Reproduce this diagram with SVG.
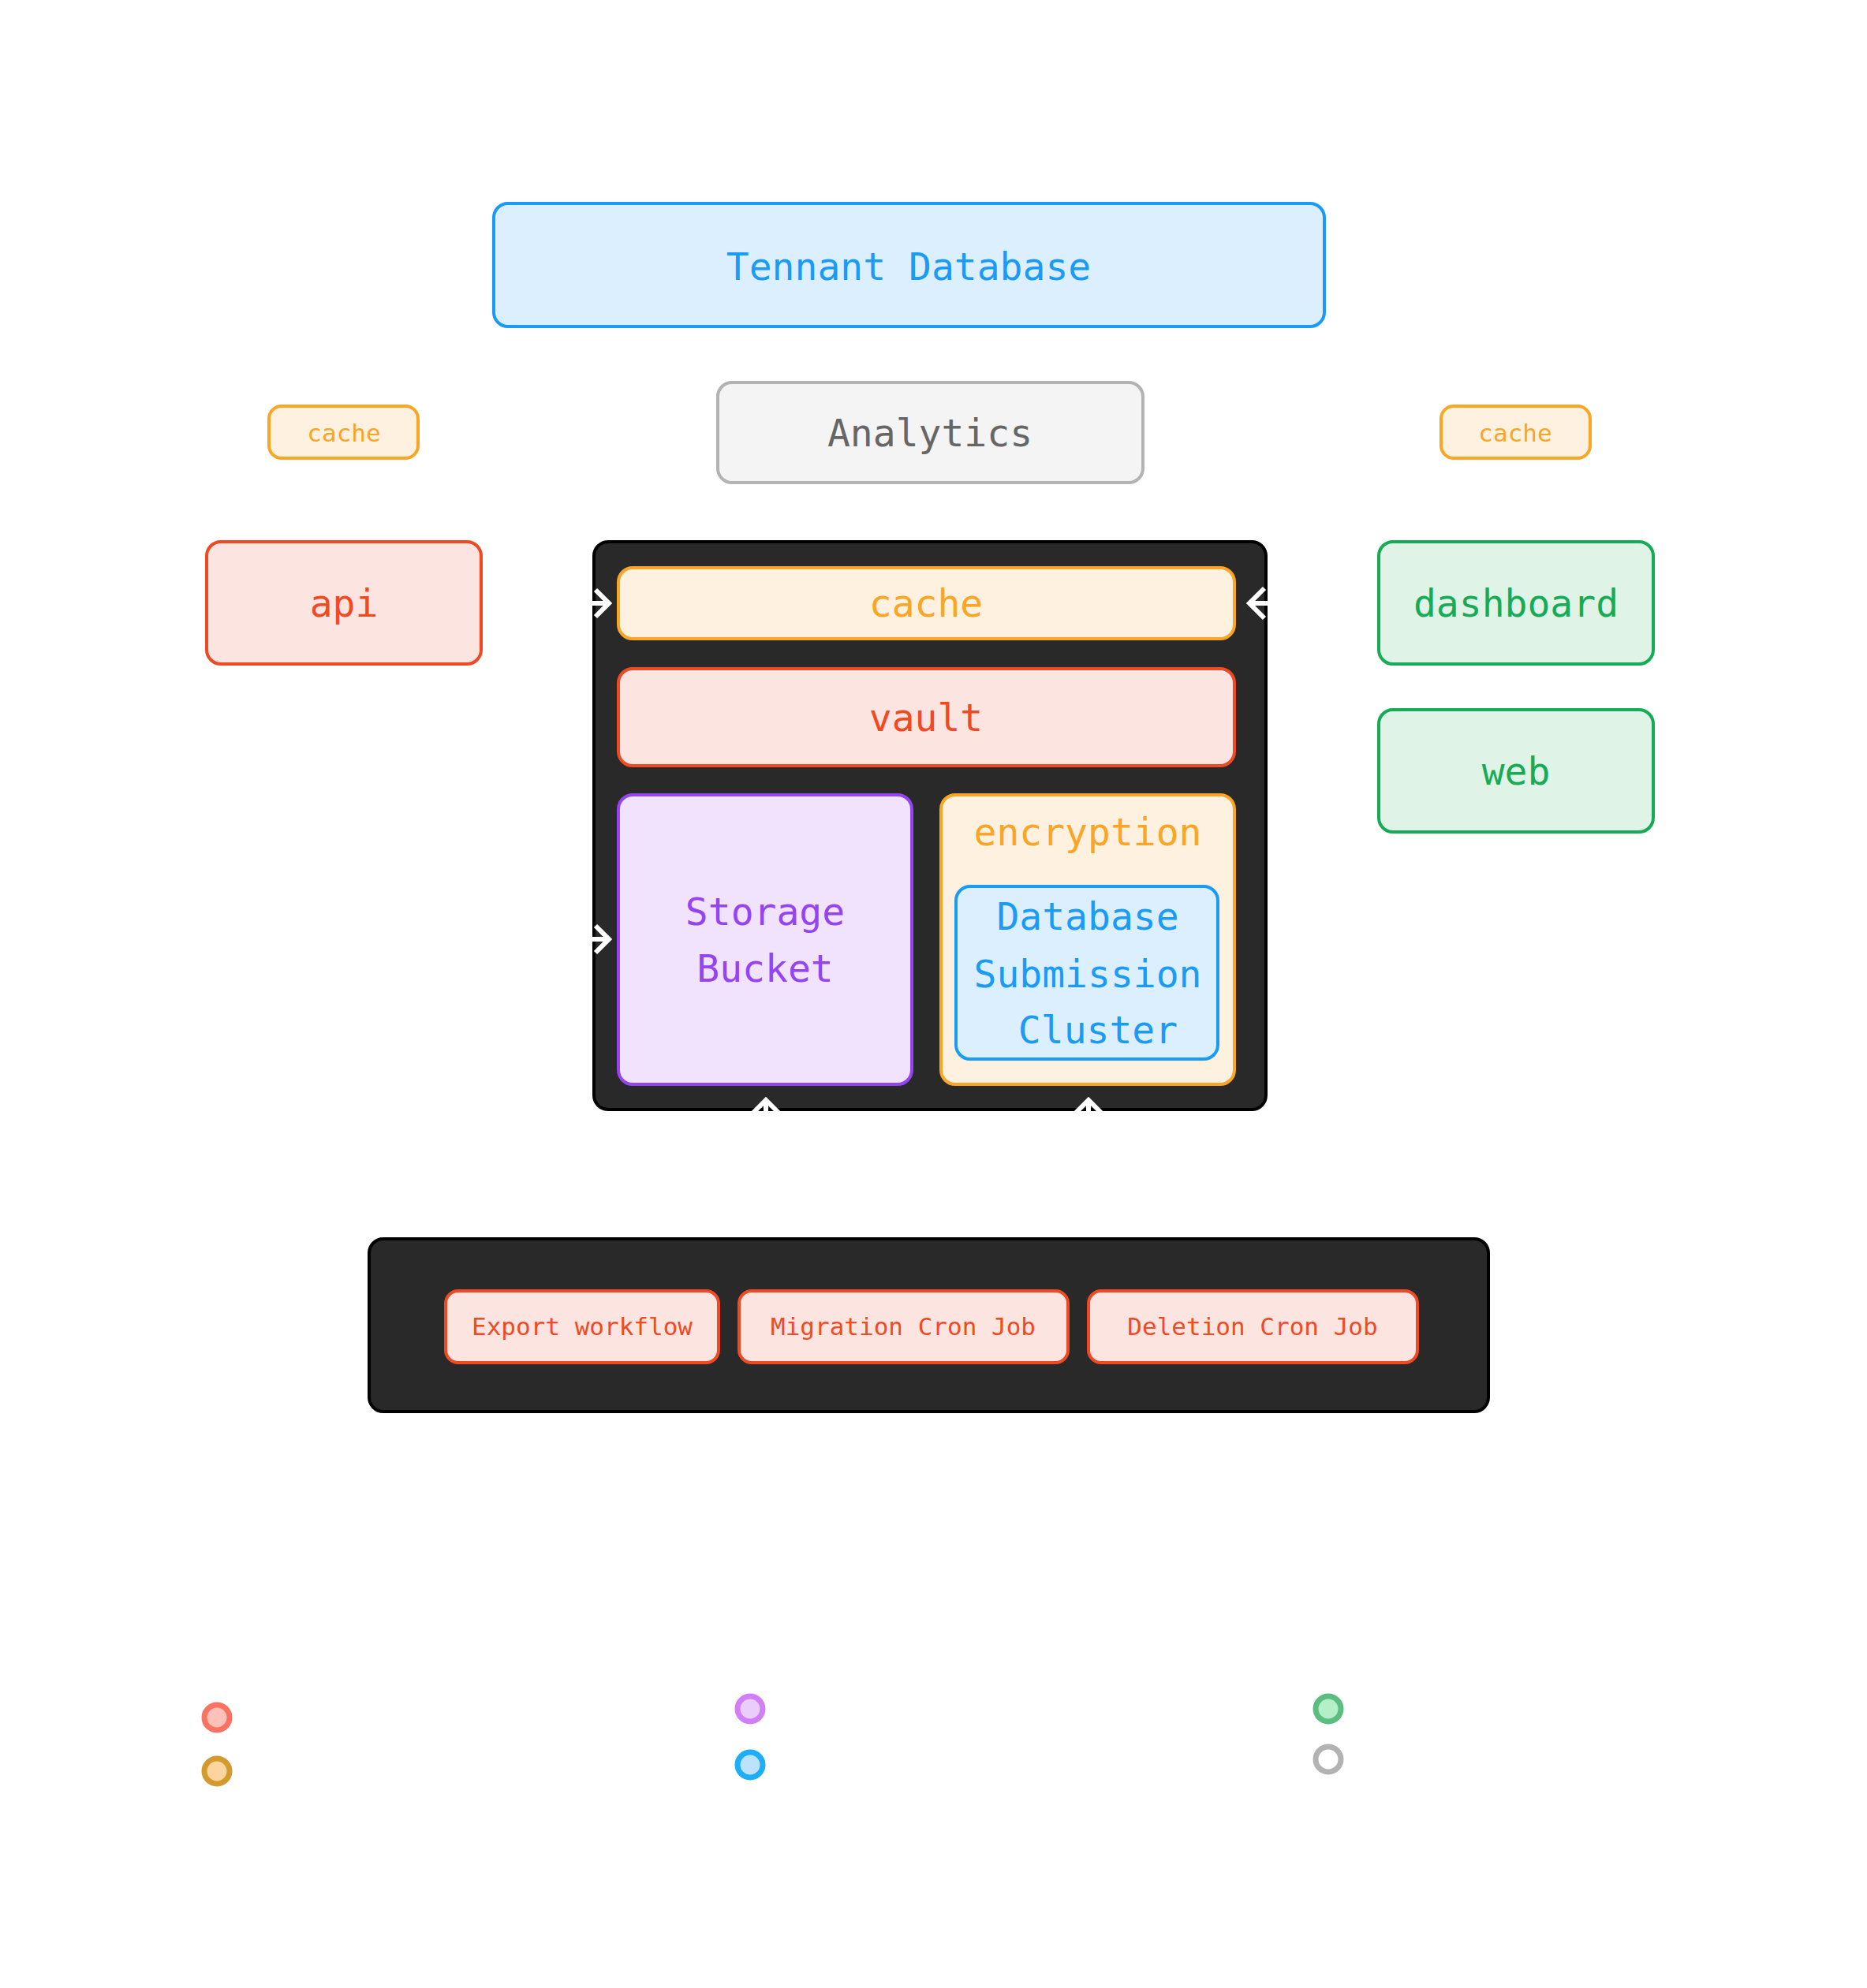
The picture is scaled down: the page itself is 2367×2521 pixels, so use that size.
<svg xmlns="http://www.w3.org/2000/svg" width="2367" height="2521" viewBox="0 0 2367 2521">
<style>
text{font-family:"DejaVu Sans Mono","Liberation Mono",monospace;text-anchor:middle;dominant-baseline:central}
.blue{fill:#dcefff;stroke:#1a9bf5;stroke-width:4}
.org{fill:#fff1e0;stroke:#f9a526;stroke-width:4}
.red{fill:#fce5e0;stroke:#f04a25;stroke-width:4}
.grn{fill:#dff3e6;stroke:#17ab57;stroke-width:4}
.gry{fill:#f4f4f4;stroke:#b3b3b3;stroke-width:4}
.pur{fill:#f1e2fe;stroke:#9444f0;stroke-width:4}
.dark{fill:#292929;stroke:#000;stroke-width:4}
.arr{fill:none;stroke:#fff;stroke-width:6}
</style>
<g id="tennant"><rect class="blue" x="626" y="258" width="1053" height="156" rx="18"/><text x="1152" y="338" font-size="48" fill="#1a9bf5">Tennant Database</text></g>
<g id="cacheL"><rect class="org" x="341" y="515" width="189" height="66" rx="16"/><text x="436" y="549" font-size="31" fill="#f9a526">cache</text></g>
<g id="analytics"><rect class="gry" x="910" y="485" width="539" height="127" rx="18"/><text x="1179" y="549" font-size="48" fill="#666">Analytics</text></g>
<g id="cacheR"><rect class="org" x="1827" y="515" width="189" height="66" rx="16"/><text x="1921" y="549" font-size="31" fill="#f9a526">cache</text></g>
<g id="api"><rect class="red" x="262" y="687" width="348" height="155" rx="18"/><text x="436" y="765" font-size="48" fill="#f04a25">api</text></g>
<g id="dashboard"><rect class="grn" x="1748" y="687" width="348" height="155" rx="18"/><text x="1922" y="765" font-size="48" fill="#17ab57">dashboard</text></g>
<g id="web"><rect class="grn" x="1748" y="900" width="348" height="155" rx="18"/><text x="1922" y="978" font-size="48" fill="#17ab57">web</text></g>
<g id="container"><rect class="dark" x="753" y="687" width="852" height="720" rx="18"/>
<g id="cacheInner"><rect class="org" x="784" y="720" width="781" height="90" rx="18"/><text x="1174" y="765" font-size="48" fill="#f9a526">cache</text></g>
<g id="vault"><rect class="red" x="784" y="848" width="781" height="123" rx="18"/><text x="1174" y="910" font-size="48" fill="#f04a25">vault</text></g>
<g id="storage"><rect class="pur" x="784" y="1008" width="372" height="367" rx="18"/><text x="970" y="1156" font-size="48" fill="#9444f0">Storage</text><text x="970" y="1228" font-size="48" fill="#9444f0">Bucket</text></g>
<g id="encryption"><rect class="org" x="1193" y="1008" width="372" height="367" rx="18"/><text x="1379" y="1055" font-size="48" fill="#f9a526">encryption</text>
<g id="dsc"><rect class="blue" x="1212" y="1124" width="332" height="219" rx="18"/><text x="1379" y="1162" font-size="48" fill="#1a9bf5">Database</text><text x="1379" y="1235" font-size="48" fill="#1a9bf5">Submission</text><text x="1392" y="1306" font-size="48" fill="#1a9bf5">Cluster</text></g></g>
</g>
<g id="jobs"><rect class="dark" x="468" y="1571" width="1419" height="219" rx="18"/>
<g id="export"><rect class="red" x="565" y="1637" width="346" height="91" rx="16"/><text x="738" y="1682" font-size="31" fill="#f04a25">Export workflow</text></g>
<g id="migration"><rect class="red" x="937" y="1637" width="417" height="91" rx="16"/><text x="1145" y="1682" font-size="31" fill="#f04a25">Migration Cron Job</text></g>
<g id="deletion"><rect class="red" x="1380" y="1637" width="417" height="91" rx="16"/><text x="1588" y="1682" font-size="31" fill="#f04a25">Deletion Cron Job</text></g>
</g>
<g id="connectors">
<path class="arr" d="M745 765h25M755 748l17 17-17 17"/>
<path class="arr" d="M745 1191h25M755 1174l17 17-17 17"/>
<path class="arr" d="M1613 765h-27M1603 746l-19 19 19 19"/>
<path class="arr" d="M971 1412v-18M954 1412l17-17 17 17"/>
<path class="arr" d="M1380 1412v-18M1363 1412l17-17 17 17"/>
</g>
<g id="legend">
<circle cx="275" cy="2178" r="16" fill="#ffc1b8" stroke="#fa7262" stroke-width="7"/>
<circle cx="275" cy="2246" r="16" fill="#fdd49e" stroke="#d39a2f" stroke-width="7"/>
<circle cx="951" cy="2167" r="16" fill="#e9cefc" stroke="#d17ef7" stroke-width="7"/>
<circle cx="951" cy="2238" r="16" fill="#bde3fc" stroke="#1daef5" stroke-width="7"/>
<circle cx="1684" cy="2167" r="16" fill="#b3f0c8" stroke="#5bbd7f" stroke-width="7"/>
<circle cx="1684" cy="2231" r="16" fill="#fff" stroke="#b3b3b3" stroke-width="7"/>
</g>
</svg>
